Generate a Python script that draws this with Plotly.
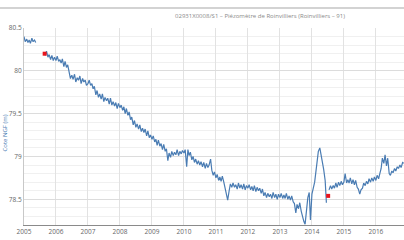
import pandas as pd
import plotly.graph_objects as go

# ---- data (semi-monthly readings) ----
v2005a = [80.40, 80.34, 80.37, 80.33, 80.36, 80.32, 80.38, 80.34, 80.36, 80.33]
v2005b_start = ["2005-08-25"]
v2005b_first = [80.20]
v2005b = [80.18, 80.23, 80.16, 80.19, 80.13, 80.18, 80.12, 80.16]
v2006 = [80.12, 80.17, 80.11, 80.13, 80.09, 80.14, 80.05, 80.11, 80.04, 80.07, 79.97, 79.91,
         79.95, 79.90, 79.96, 79.87, 79.92, 79.89, 79.94, 79.85, 79.91, 79.87, 79.89, 79.83]
v2007 = [79.85, 79.89, 79.83, 79.85, 79.79, 79.82, 79.72, 79.77, 79.69, 79.73, 79.67, 79.73,
         79.64, 79.69, 79.65, 79.68, 79.61, 79.68, 79.60, 79.64, 79.59, 79.63, 79.56, 79.62]
v2008 = [79.57, 79.60, 79.54, 79.58, 79.50, 79.56, 79.48, 79.52, 79.43, 79.46, 79.37, 79.42,
         79.34, 79.38, 79.32, 79.37, 79.29, 79.33, 79.28, 79.32, 79.24, 79.30, 79.22, 79.25]
v2009 = [79.20, 79.24, 79.17, 79.20, 79.13, 79.19, 79.12, 79.15, 79.08, 79.14, 79.06, 79.09,
         78.95, 79.04, 78.99, 79.06, 79.01, 79.05, 79.02, 79.08, 79.01, 79.06, 79.03, 79.07]
v2010 = [79.04, 79.08, 78.88, 79.08, 79.01, 79.05, 78.96, 79.00, 78.93, 78.97, 78.91, 78.95,
         78.90, 78.94, 78.88, 78.93, 78.86, 78.92, 78.87, 78.90, 78.97, 78.84, 78.78, 78.82]
v2011 = [78.75, 78.79, 78.72, 78.76, 78.71, 78.77, 78.70, 78.64, 78.56, 78.49, 78.60, 78.68,
         78.64, 78.69, 78.64, 78.67, 78.62, 78.69, 78.63, 78.67, 78.62, 78.68, 78.61, 78.66]
v2012 = [78.63, 78.67, 78.61, 78.65, 78.60, 78.66, 78.59, 78.64, 78.60, 78.63, 78.57, 78.62,
         78.54, 78.58, 78.52, 78.57, 78.53, 78.56, 78.51, 78.58, 78.52, 78.56, 78.50, 78.56]
v2013 = [78.52, 78.57, 78.51, 78.55, 78.51, 78.57, 78.50, 78.54, 78.49, 78.54, 78.47, 78.45,
         78.34, 78.44, 78.39, 78.46, 78.36, 78.30, 78.24, 78.21, 78.40, 78.52, 78.58, 78.26]
v2014a = [78.56, 78.62, 78.70, 78.82, 78.95, 79.06, 79.10, 79.03, 78.95, 78.85, 78.72, 78.46]
v2014b = [78.61, 78.66, 78.62, 78.66, 78.63, 78.69, 78.64, 78.70, 78.66, 78.71, 78.67]
v2015 = [78.70, 78.80, 78.69, 78.73, 78.69, 78.75, 78.68, 78.73, 78.67, 78.72, 78.64, 78.62,
         78.56, 78.61, 78.63, 78.69, 78.66, 78.71, 78.68, 78.74, 78.70, 78.75, 78.71, 78.76]
v2016 = [78.72, 78.78, 78.74, 78.80, 78.86, 78.98, 78.92, 79.02, 78.89, 78.98, 78.80, 78.78,
         78.83, 78.81, 78.86, 78.83, 78.88, 78.86, 78.90, 78.87, 78.93, 78.92]

manual_dates = ["2005-08-25", "2014-07-05"]
manual_values = [80.20, 78.54]

tick_years = [str(y) for y in range(2005, 2017)]

TITLE = "02931X0008/S1 – Piézomètre de Roinvilliers (Roinvilliers – 91)"


def sms(start, n):
    return list(pd.date_range(start, periods=n, freq="SMS"))


xs, ys = [], []


def add(dates, vals, gap=False):
    xs.extend(dates)
    ys.extend(vals)
    if gap:
        xs.append(dates[-1] + pd.Timedelta(days=1))
        ys.append(None)


add(sms("2005-01-01", len(v2005a)), v2005a, gap=True)
add([pd.Timestamp(d) for d in v2005b_start], v2005b_first)
add(sms("2005-09-01", len(v2005b)), v2005b)
for y, v in [(2006, v2006), (2007, v2007), (2008, v2008), (2009, v2009),
             (2010, v2010), (2011, v2011), (2012, v2012), (2013, v2013)]:
    add(sms(f"{y}-01-01", len(v)), v)
add(sms("2014-01-01", len(v2014a)), v2014a, gap=True)
add(sms("2014-07-15", len(v2014b)), v2014b)
add(sms("2015-01-01", len(v2015)), v2015)
add(sms("2016-01-01", len(v2016)), v2016)

BLUE = "#4a7cb3"
FONT = "Open Sans, DejaVu Sans, sans-serif"

W, H = 404, 240
L, T, B, R = 24, 28, 15, 0
PW, PH = W - L - R, H - T - B

fig = go.Figure()
fig.add_trace(go.Scatter(x=xs, y=ys, mode="lines",
                         line=dict(color=BLUE, width=1.2), connectgaps=False,
                         showlegend=False))
fig.add_trace(go.Scatter(x=manual_dates, y=manual_values, mode="markers",
                         marker=dict(color="#e8141c", size=4, symbol="square"),
                         showlegend=False))

fig.update_layout(
    width=W, height=H,
    margin=dict(l=L, r=R, t=T, b=B, pad=0),
    paper_bgcolor="white", plot_bgcolor="white",
    font=dict(family=FONT, size=6.5, color="#666666"),
    title=dict(text=TITLE, x=260 / W, xanchor="center", y=1 - 15.5 / H, yanchor="middle",
               font=dict(family=FONT, size=6, color="#8a8a8a")),
    showlegend=False,
)
fig.update_xaxes(
    type="date",
    range=["2005-01-01", "2016-11-17"],
    tickmode="array",
    tickvals=[f"{y}-01-01" for y in tick_years],
    ticktext=tick_years,
    showgrid=True, gridcolor="#e2e2e2", gridwidth=1,
    showline=True, linecolor="#8a8a8a", linewidth=1,
    ticks="", tickfont=dict(size=6.5, color="#666666"),
    automargin=False, zeroline=False,
)
fig.update_yaxes(
    range=[78.2, 80.5],
    tickmode="array",
    tickvals=[78.5, 79, 79.5, 80, 80.5],
    ticktext=["78.5", "79", "79.5", "80", "80.5"],
    showgrid=True, gridcolor="#dcdcdc", gridwidth=1,
    minor=dict(dtick=0.1, tick0=78.5, showgrid=True, gridcolor="#f0f0f0", gridwidth=1),
    showline=True, linecolor="#c8c8c8", linewidth=1,
    ticks="", tickfont=dict(size=6.5, color="#666666"),
    automargin=False, zeroline=False,
)

# axis titles
fig.add_annotation(text="Cote NGF (m)", xref="paper", yref="paper",
                   x=(4.5 - L) / PW, y=(H - B - 133) / PH, xanchor="center", yanchor="middle",
                   textangle=-90, showarrow=False,
                   font=dict(family=FONT, size=6, color=BLUE))
fig.add_annotation(text="Date", xref="paper", yref="paper",
                   x=(216 - L) / PW, y=(H - B - 236.5) / PH, xanchor="center", yanchor="top",
                   showarrow=False, font=dict(family=FONT, size=6, color=BLUE))

# top border line of the chart container
fig.add_shape(type="line", xref="paper", yref="paper",
              x0=-L / PW, x1=1, y0=(H - B - 8) / PH, y1=(H - B - 8) / PH,
              line=dict(color="#c4c4c4", width=1.5))

fig.write_html("out.html", config={"displayModeBar": False},
               post_script="document.body.style.margin='0';")
